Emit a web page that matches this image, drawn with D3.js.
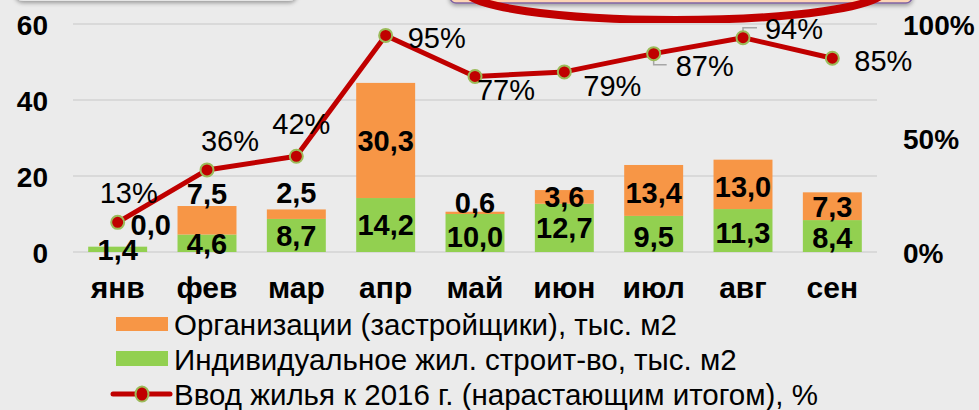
<!DOCTYPE html>
<html>
<head>
<meta charset="utf-8">
<script src="https://cdn.jsdelivr.net/npm/d3@7"></script>
<style>
  body { margin: 0; background: #ebebeb; }
  svg { display: block; font-family: "Liberation Sans", Arial, sans-serif; }
</style>
</head>
<body>
<svg width="979" height="410"></svg>
<script>
// data
const months = ["янв", "фев", "мар", "апр", "май", "июн", "июл", "авг", "сен"]
const individual = [1.4, 4.6, 8.7, 14.2, 10.0, 12.7, 9.5, 11.3, 8.4]   // green
const companies = [0.0, 7.5, 2.5, 30.3, 0.6, 3.6, 13.4, 13.0, 7.3]    // orange
const percentDone = [13, 36, 42, 95, 77, 79, 87, 94, 85]
const leftTicks = [0, 20, 40, 60]
const rightTicks = [0, 50, 100]
const legendNames = [
    "Организации (застройщики), тыс. м2",
    "Индивидуальное жил. строит-во, тыс. м2",
    "Ввод жилья к 2016 г. (нарастающим итогом), %"
]

// label nudges (px) so labels sit where they were placed on the slide
const orangeNudge = [[33, -22], [0, -27], [0, -22], [0, 0], [0, -10], [0, 0], [0, 2], [0, 2], [0, 0]]
const greenNudge = [0, 0, 0, 0, 4, 0, 3, 2, 2]
const pctNudge = [[11, -30], [23, -29], [5, -33], [51, 2], [31, 13], [48, 14], [51, 12], [51, -9], [51, 2]]

const orange = "#f79646", green = "#92d050", red = "#c00000"

const svg = d3.select("svg")

// drop shadow for the slide decorations
const defs = svg.append("defs")
const f = defs.append("filter").attr("id", "shadow").attr("x", "-10%").attr("y", "-50%").attr("width", "120%").attr("height", "300%")
f.append("feDropShadow").attr("dx", 0).attr("dy", 2).attr("stdDeviation", 2).attr("flood-color", "#000").attr("flood-opacity", 0.35)

// decorations cut off at top of the slide
svg.append("rect").attr("x", 15).attr("y", -20).attr("width", 282).attr("height", 21).attr("rx", 8)
    .attr("fill", "#e6e6e6").attr("filter", "url(#shadow)")
svg.append("rect").attr("x", 450).attr("y", -20).attr("width", 462).attr("height", 23).attr("rx", 6)
    .attr("fill", "#fcd5b5").attr("stroke", "#8064a2").attr("stroke-width", 1.5).attr("filter", "url(#shadow)")
svg.append("ellipse").attr("cx", 675).attr("cy", -10).attr("rx", 210).attr("ry", 30)
    .attr("fill", "none").attr("stroke", red).attr("stroke-width", 8)

// scales
const x = d3.scaleBand().domain(months).range([73, 877]).paddingInner(0.34).paddingOuter(0.17)
const y = d3.scaleLinear().domain([0, 60]).range([252, 24])
const yPct = d3.scaleLinear().domain([0, 100]).range([252, 24])

// gridlines
svg.append("g")
    .selectAll("line")
    .data(leftTicks)
    .join("line")
    .attr("x1", 73).attr("x2", 877)
    .attr("y1", d => y(d)).attr("y2", d => y(d))
    .attr("stroke", "#d9d9d9").attr("stroke-width", 2)

// left axis
const leftAxis = svg.append("g")
    .attr("transform", "translate(48,0)")
    .call(d3.axisLeft(y).tickValues(leftTicks).tickSize(0).tickPadding(0))
leftAxis.select(".domain").remove()
leftAxis.selectAll("text").attr("font-size", 28).attr("font-weight", "bold").attr("fill", "#000")
    .attr("font-family", "Liberation Sans, Arial, sans-serif").attr("dy", "0.36em")

// right axis
const rightAxis = svg.append("g")
    .attr("transform", "translate(903,0)")
    .call(d3.axisRight(yPct).tickValues(rightTicks).tickSize(0).tickPadding(0).tickFormat(d => d + "%"))
rightAxis.select(".domain").remove()
rightAxis.selectAll("text").attr("font-size", 28).attr("font-weight", "bold").attr("fill", "#000")
    .attr("font-family", "Liberation Sans, Arial, sans-serif").attr("dy", "0.36em")

// category axis
const bottomAxis = svg.append("g")
    .attr("transform", "translate(0,252)")
    .call(d3.axisBottom(x).tickSize(0).tickPadding(0))
bottomAxis.select(".domain").remove()
bottomAxis.selectAll("text").attr("font-size", 30).attr("font-weight", "bold").attr("fill", "#000")
    .attr("font-family", "Liberation Sans, Arial, sans-serif").attr("y", 46).attr("dy", 0)

// stacked bars
const rows = months.map((m, i) => ({ month: m, individual: individual[i], companies: companies[i] }))
const stacked = d3.stack().keys(["individual", "companies"])(rows)
const colors = { individual: green, companies: orange }

svg.append("g")
    .selectAll("g")
    .data(stacked)
    .join("g")
    .attr("fill", d => colors[d.key])
    .selectAll("rect")
    .data(d => d)
    .join("rect")
    .attr("x", d => x(d.data.month))
    .attr("y", d => y(d[1]))
    .attr("width", x.bandwidth())
    .attr("height", d => y(d[0]) - y(d[1]))

// bar labels
const fmt = v => v.toFixed(1).replace(".", ",")
const labels = svg.append("g").attr("font-size", 29).attr("font-weight", "bold").attr("text-anchor", "middle")
stacked[0].forEach((d, i) => {
    labels.append("text")
        .attr("x", x(d.data.month) + x.bandwidth() / 2)
        .attr("y", (y(d[0]) + y(d[1])) / 2 + greenNudge[i])
        .attr("dy", "0.36em")
        .text(fmt(individual[i]))
})
stacked[1].forEach((d, i) => {
    labels.append("text")
        .attr("x", x(d.data.month) + x.bandwidth() / 2 + orangeNudge[i][0])
        .attr("y", (y(d[0]) + y(d[1])) / 2 + orangeNudge[i][1])
        .attr("dy", "0.36em")
        .text(fmt(companies[i]))
})

// percent line
const cx = m => x(m) + x.bandwidth() / 2
const line = d3.line().x((d, i) => cx(months[i])).y(d => yPct(d))

// leader lines for 87% and 94%
svg.append("path")
    .attr("d", `M${cx("июл")},${yPct(87) + 3} V${yPct(87) + 11} H${cx("июл") + 13}`)
    .attr("fill", "none").attr("stroke", "#a6a6a6").attr("stroke-width", 1.5)
svg.append("path")
    .attr("d", `M${cx("авг")},${yPct(94) - 3} V${yPct(94) - 10} H${cx("авг") + 14}`)
    .attr("fill", "none").attr("stroke", "#a6a6a6").attr("stroke-width", 1.5)

svg.append("path")
    .datum(percentDone)
    .attr("d", line)
    .attr("fill", "none")
    .attr("stroke", red)
    .attr("stroke-width", 5)
    .attr("stroke-linejoin", "round")

svg.append("g")
    .selectAll("circle")
    .data(percentDone)
    .join("circle")
    .attr("cx", (d, i) => cx(months[i]))
    .attr("cy", d => yPct(d))
    .attr("r", 6.5)
    .attr("fill", red)
    .attr("stroke", "#9bbb59")
    .attr("stroke-width", 2)

svg.append("g")
    .attr("font-size", 29)
    .attr("text-anchor", "middle")
    .selectAll("text")
    .data(percentDone)
    .join("text")
    .attr("x", (d, i) => cx(months[i]) + pctNudge[i][0])
    .attr("y", (d, i) => yPct(d) + pctNudge[i][1])
    .attr("dy", "0.36em")
    .text(d => d + "%")

// legend
const legend = svg.append("g").attr("font-size", 29.5)
const legendY = [324, 359, 394]
legend.append("rect").attr("x", 116).attr("y", 317).attr("width", 52).attr("height", 14).attr("fill", orange)
legend.append("rect").attr("x", 116).attr("y", 351).attr("width", 52).attr("height", 15).attr("fill", green)
legend.append("line").attr("x1", 113).attr("x2", 170).attr("y1", 394).attr("y2", 394)
    .attr("stroke", red).attr("stroke-width", 5).attr("stroke-linecap", "round")
legend.append("ellipse").attr("cx", 142).attr("cy", 394).attr("rx", 6.5).attr("ry", 7.5)
    .attr("fill", red).attr("stroke", "#9bbb59").attr("stroke-width", 2)
legend.selectAll("text.name")
    .data(legendNames)
    .join("text")
    .attr("class", "name")
    .attr("x", 174)
    .attr("y", (d, i) => legendY[i])
    .attr("dy", "0.36em")
    .text(d => d)
</script>
</body>
</html>
